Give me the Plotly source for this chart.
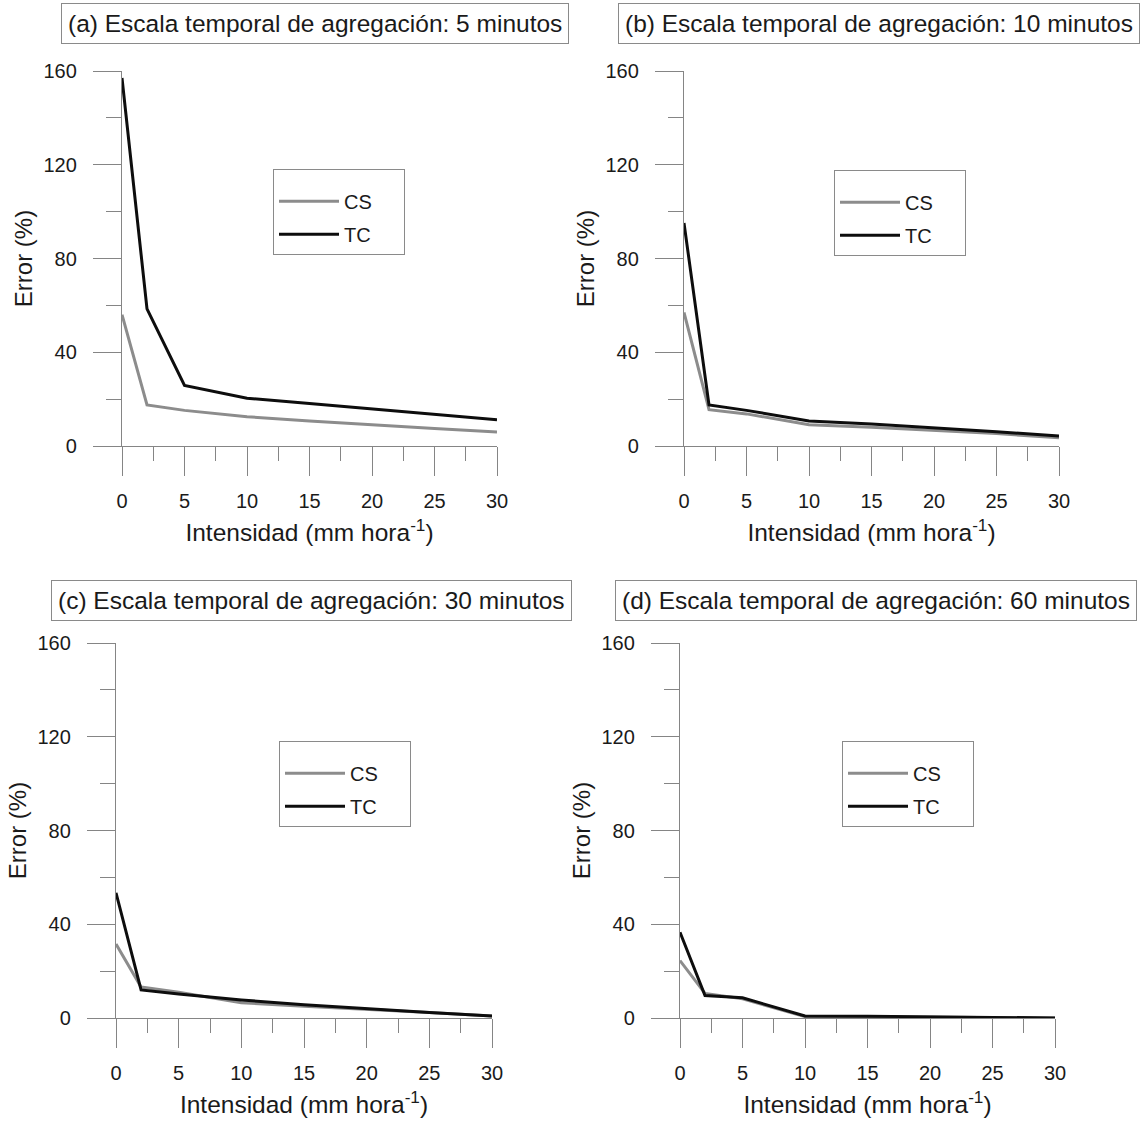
import plotly.graph_objects as go

# ---- data ----
intensity = [0, 2, 5, 10, 15, 20, 25, 30]
cs_5 = [56, 17.5, 15.2, 12.5, 10.7, 9.0, 7.5, 6.0]
tc_5 = [157, 58.5, 25.8, 20.4, 18.1, 15.8, 13.6, 11.2]
cs_10 = [57, 15.5, 13.7, 9.1, 8.0, 6.7, 5.3, 3.5]
tc_10 = [95.2, 17.5, 15.2, 10.7, 9.4, 7.9, 6.1, 4.3]
cs_30 = [31.6, 13.2, 11.0, 6.5, 5.0, 3.5, 2.3, 0.9]
tc_30 = [53.4, 12.0, 10.2, 7.7, 5.7, 3.9, 2.4, 0.9]
cs_60 = [24.5, 10.5, 8.2, 0.6, 0.5, 0.3, 0.2, 0.0]
tc_60 = [36.6, 9.6, 8.6, 0.9, 0.8, 0.5, 0.3, 0.0]

panel_titles = [
    "(a) Escala temporal de agregación: 5 minutos",
    "(b) Escala temporal de agregación: 10 minutos",
    "(c) Escala temporal de agregación: 30 minutos",
    "(d) Escala temporal de agregación: 60 minutos",
]
series_names = ["CS", "TC"]
x_tickvals = [0, 5, 10, 15, 20, 25, 30]
y_tickvals = [0, 40, 80, 120, 160]
x_title = "Intensidad (mm hora<sup>-1</sup>)"
y_title = "Error (%)"

# ---- layout geometry (pixels) ----
W, H = 1141, 1122
areas = [(122, 497, 71, 446), (684, 1059, 71, 446), (116, 492, 643, 1018), (680, 1055, 643, 1018)]
title_boxes = [(64, 565, 24), (620, 1137, 24), (53, 569, 600), (616, 1135, 600)]
legend_pos = [(273, 169), (834, 170), (279, 741), (842, 741)]

FONT = "Liberation Sans, Arial, sans-serif"
TXT = "#1a1a1a"
AX = "#858585"
GRAY = "#8c8c8c"
BLACK = "#0d0d0d"

data_cs = [cs_5, cs_10, cs_30, cs_60]
data_tc = [tc_5, tc_10, tc_30, tc_60]

fig = go.Figure()
layout = dict(
    width=W, height=H,
    margin=dict(l=0, r=0, t=0, b=0, pad=0, autoexpand=False),
    paper_bgcolor="white", plot_bgcolor="white",
    font=dict(family=FONT, color=TXT),
    annotations=[],
)

for i in range(4):
    sfx = "" if i == 0 else str(i + 1)
    x0, x1, yt, yb = areas[i]
    xdom = [x0 / W, x1 / W]
    ydom = [1 - yb / H, 1 - yt / H]
    leg = "legend" if i == 0 else "legend%d" % (i + 1)

    fig.add_trace(go.Scatter(
        x=intensity, y=data_cs[i], mode="lines", name=series_names[0],
        line=dict(color=GRAY, width=3), xaxis="x" + sfx, yaxis="y" + sfx,
        legend=leg, legendgroup="cs%d" % i, showlegend=True,
    ))
    fig.add_trace(go.Scatter(
        x=intensity, y=data_tc[i], mode="lines", name=series_names[1],
        line=dict(color=BLACK, width=3), xaxis="x" + sfx, yaxis="y" + sfx,
        legend=leg, legendgroup="tc%d" % i, showlegend=True,
    ))

    layout["xaxis" + sfx] = dict(
        domain=xdom, anchor="y" + sfx, range=[0, 30], automargin=False,
        showgrid=False, zeroline=False,
        showline=True, linecolor=AX, linewidth=1.3,
        ticks="outside", ticklen=29, tickwidth=1.3, tickcolor=AX,
        tickvals=x_tickvals, ticklabelstandoff=8,
        tickfont=dict(size=20, color=TXT, family=FONT),
        minor=dict(dtick=2.5, tick0=0, ticks="outside", ticklen=14,
                   tickwidth=1.3, tickcolor=AX, showgrid=False),
        title=dict(text=x_title, font=dict(size=24.5, color=TXT, family=FONT), standoff=12),
        fixedrange=True,
    )
    layout["yaxis" + sfx] = dict(
        domain=ydom, anchor="x" + sfx, range=[0, 160], automargin=False,
        showgrid=False, zeroline=False,
        showline=True, linecolor=AX, linewidth=1.3,
        ticks="outside", ticklen=28, tickwidth=1.3, tickcolor=AX,
        tickvals=y_tickvals, ticklabelstandoff=12,
        tickfont=dict(size=20, color=TXT, family=FONT),
        minor=dict(dtick=20, tick0=0, ticks="outside", ticklen=15,
                   tickwidth=1.3, tickcolor=AX, showgrid=False),
        title=dict(text=y_title, font=dict(size=24, color=TXT, family=FONT), standoff=4),
        fixedrange=True,
    )
    lx, ly = legend_pos[i]
    layout[leg] = dict(
        x=lx / W, y=1 - ly / H, xanchor="left", yanchor="top",
        xref="paper", yref="paper",
        bordercolor="#8a8a8a", borderwidth=1, bgcolor="white",
        font=dict(size=20, color=TXT, family=FONT),
        itemwidth=60, tracegroupgap=4,
        title=dict(text="&nbsp;" * 50, font=dict(size=9)),
    )
    bx0, bx1, by = title_boxes[i]
    layout["annotations"].append(dict(
        text=panel_titles[i], xref="paper", yref="paper",
        x=(bx0 + bx1) / 2 / W, y=1 - by / H, xanchor="center", yanchor="middle",
        showarrow=False, font=dict(size=24.5, color=TXT, family=FONT),
        bordercolor="#8a8a8a", borderwidth=1, borderpad=6, bgcolor="white",
    ))

fig.update_layout(**layout)
fig.write_html("out.html")
